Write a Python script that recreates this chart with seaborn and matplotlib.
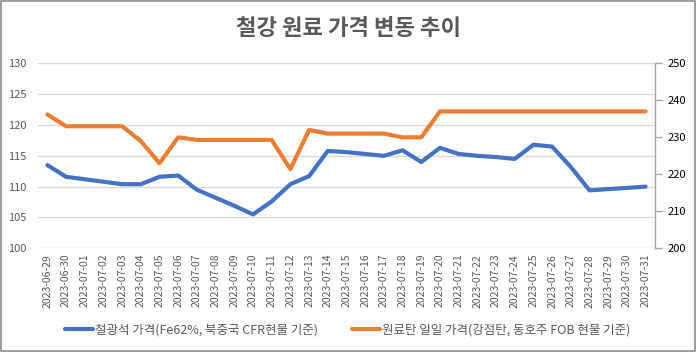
import seaborn as sns
import matplotlib.pyplot as plt
import matplotlib.patches as patches
import pandas as pd

dates = ["2023-06-29", "2023-06-30", "2023-07-01", "2023-07-02", "2023-07-03", "2023-07-04",
         "2023-07-05", "2023-07-06", "2023-07-07", "2023-07-08", "2023-07-09", "2023-07-10",
         "2023-07-11", "2023-07-12", "2023-07-13", "2023-07-14", "2023-07-15", "2023-07-16",
         "2023-07-17", "2023-07-18", "2023-07-19", "2023-07-20", "2023-07-21", "2023-07-22",
         "2023-07-23", "2023-07-24", "2023-07-25", "2023-07-26", "2023-07-27", "2023-07-28",
         "2023-07-29", "2023-07-30", "2023-07-31"]

iron_ore = [113.5, 111.6, 111.2, 110.8, 110.4, 110.4, 111.6, 111.8, 109.5, 108.2, 106.9, 105.5,
            107.6, 110.4, 111.7, 115.8, 115.6, 115.3, 115.0, 115.9, 114.0, 116.3, 115.3, 115.0,
            114.8, 114.5, 116.8, 116.5, 113.2, 109.4, 109.6, 109.8, 110.0]

coking_coal = [236.2, 233, 233, 233, 233, 229, 223, 230, 229.3, 229.3, 229.3, 229.3,
               229.3, 221.4, 232, 231, 231, 231, 231, 230, 230, 237, 237, 237,
               237, 237, 237, 237, 237, 237, 237, 237, 237]

iron_label = "철광석 가격(Fe62%, 북중국 CFR현물 기준)"
coal_label = "원료탄 일일 가격(강점탄, 동호주 FOB 현물 기준)"
title = "철강 원료 가격 변동 추이"

sns.set_style("white")
plt.rcParams['font.family'] = ['Noto Sans CJK KR', 'DejaVu Sans']

df = pd.DataFrame({"date": dates, "iron": iron_ore, "coal": coking_coal})
df["pos"] = range(len(dates))

fig = plt.figure(figsize=(6.96, 3.52), dpi=100)
ax = fig.add_axes([0.0546, 0.2946, 0.8864, 0.5254])
ax2 = ax.twinx()

text_col = "#595959"

sns.lineplot(data=df, x="pos", y="iron", color="#4472C4", linewidth=3, ax=ax, label=iron_label, legend=False)
sns.lineplot(data=df, x="pos", y="coal", color="#ED7D31", linewidth=3, ax=ax2, label=coal_label, legend=False)

ax.set_xlim(-0.5, len(dates) - 0.5)
ax.set_ylim(100, 130)
ax.set_yticks(range(100, 131, 5))
ax2.set_ylim(200, 250)
ax2.set_yticks(range(200, 251, 10))

ax.set_xticks(df["pos"])
ax.set_xticklabels(dates, rotation=90, fontsize=7.5, color=text_col)
ax.tick_params(axis="x", length=0, pad=4)
ax.tick_params(axis="y", length=0, labelsize=8, colors=text_col, pad=8)
ax2.tick_params(axis="y", length=5, width=1, color="#a6a6a6", labelsize=8, labelcolor="black", pad=4)

ax.grid(axis="y", color="#d9d9d9", linewidth=1)
ax.set_xlabel("")
ax.set_ylabel("")
ax2.set_ylabel("")
ax2.set_xlabel("")

for s in ["top", "left", "bottom"]:
    ax.spines[s].set_visible(False)
    ax2.spines[s].set_visible(False)
ax.spines["right"].set_visible(False)
ax2.spines["right"].set_color("#a6a6a6")
ax2.spines["right"].set_linewidth(1)

fig.text(0.5, 0.918, title, ha="center", va="center", fontsize=16, fontweight="bold", color=text_col)

h1, l1 = ax.get_legend_handles_labels()
h2, l2 = ax2.get_legend_handles_labels()
fig.legend(h1 + h2, l1 + l2, loc="center", bbox_to_anchor=(0.5, 0.062), ncol=2, frameon=False,
           fontsize=9, handlelength=2.2, columnspacing=2.7, handletextpad=0.2,
           labelcolor=text_col)

fig.patches.append(patches.Rectangle((0.001, 0.002), 0.997, 0.995, transform=fig.transFigure,
                                     fill=False, edgecolor="#8c8c8c", linewidth=1.2))

fig.savefig("out.png", dpi=100)
